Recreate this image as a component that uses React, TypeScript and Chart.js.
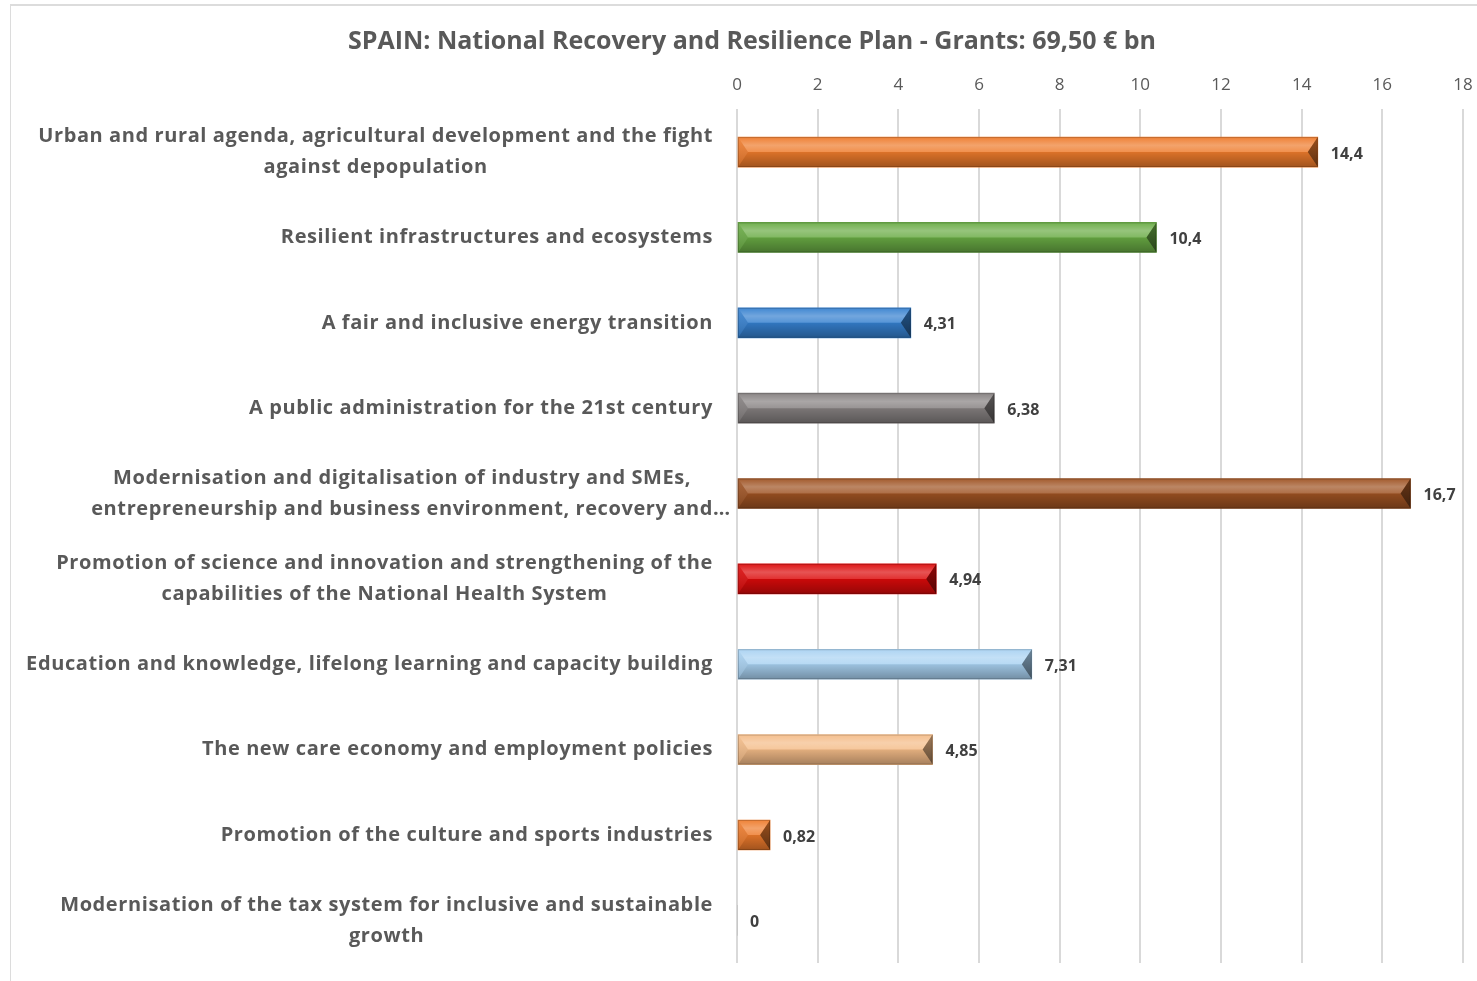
import React, { useEffect, useRef } from 'react';
import { Chart, registerables } from 'chart.js';

Chart.register(...registerables);

const TITLE = 'SPAIN: National Recovery and Resilience Plan - Grants: 69,50 € bn';

const categories: string[][] = [
  ['Urban and rural agenda, agricultural development and the fight', 'against depopulation'],
  ['Resilient infrastructures and ecosystems'],
  ['A fair and inclusive energy transition'],
  ['A public administration for the 21st century'],
  ['Modernisation and digitalisation of industry and SMEs,', 'entrepreneurship and business environment, recovery and…'],
  ['Promotion of science and innovation and strengthening of the', 'capabilities of the National Health System'],
  ['Education and knowledge, lifelong learning and capacity building'],
  ['The new care economy and employment policies'],
  ['Promotion of the culture and sports industries'],
  ['Modernisation of the tax system for inclusive and sustainable', 'growth'],
];

const grants: number[] = [14.4, 10.4, 4.31, 6.38, 16.7, 4.94, 7.31, 4.85, 0.82, 0];

const barColors: string[] = [
  '#EE7B2C',
  '#69AB44',
  '#3580CF',
  '#858080',
  '#9E5222',
  '#DC0A0A',
  '#A9D2F2',
  '#F4BC88',
  '#EE7B2C',
  '#A5A5A5',
];

const X_MIN = 0;
const X_MAX = 18;
const X_STEP = 2;

const FONT = '"Open Sans", Lato, "DejaVu Sans", sans-serif';

const fmt = (v: number) => String(v).replace('.', ',');

const bevelPlugin = {
  id: 'bevel',
  afterDatasetsDraw(chart: any) {
    const ctx: CanvasRenderingContext2D = chart.ctx;
    const meta = chart.getDatasetMeta(0);
    meta.data.forEach((bar: any) => {
      const { x, y, base, height } = bar.getProps(['x', 'y', 'base', 'height'], true);
      const x0 = Math.min(x, base);
      const x1 = Math.max(x, base);
      const w = x1 - x0;
      if (w < 0.5) return;
      const y0 = y - height / 2;
      const y1 = y + height / 2;
      const yc = y;
      const d = Math.min(10, w / 2);
      ctx.save();
      let g = ctx.createLinearGradient(0, y0, 0, yc);
      g.addColorStop(0, 'rgba(255,255,255,0.05)');
      g.addColorStop(0.55, 'rgba(255,255,255,0.3)');
      g.addColorStop(1, 'rgba(255,255,255,0.16)');
      ctx.fillStyle = g;
      ctx.beginPath();
      ctx.moveTo(x0, y0);
      ctx.lineTo(x1, y0);
      ctx.lineTo(x1 - d, yc);
      ctx.lineTo(x0 + d, yc);
      ctx.closePath();
      ctx.fill();
      g = ctx.createLinearGradient(0, yc, 0, y1);
      g.addColorStop(0, 'rgba(0,0,0,0.08)');
      g.addColorStop(1, 'rgba(0,0,0,0.32)');
      ctx.fillStyle = g;
      ctx.beginPath();
      ctx.moveTo(x0 + d, yc);
      ctx.lineTo(x1 - d, yc);
      ctx.lineTo(x1, y1);
      ctx.lineTo(x0, y1);
      ctx.closePath();
      ctx.fill();
      g = ctx.createLinearGradient(0, y0, 0, y1);
      g.addColorStop(0, 'rgba(255,255,255,0.1)');
      g.addColorStop(1, 'rgba(0,0,0,0.18)');
      ctx.fillStyle = g;
      ctx.beginPath();
      ctx.moveTo(x0, y0);
      ctx.lineTo(x0 + d, yc);
      ctx.lineTo(x0, y1);
      ctx.closePath();
      ctx.fill();
      g = ctx.createLinearGradient(0, y0, 0, y1);
      g.addColorStop(0, 'rgba(0,0,0,0.35)');
      g.addColorStop(1, 'rgba(0,0,0,0.6)');
      ctx.fillStyle = g;
      ctx.beginPath();
      ctx.moveTo(x1, y0);
      ctx.lineTo(x1 - d, yc);
      ctx.lineTo(x1, y1);
      ctx.closePath();
      ctx.fill();
      ctx.strokeStyle = 'rgba(0,0,0,0.18)';
      ctx.lineWidth = 1;
      ctx.strokeRect(x0 + 0.5, y0 + 0.5, w - 1, height - 1);
      ctx.restore();
    });
  },
};

const valueLabelPlugin = {
  id: 'valueLabels',
  afterDatasetsDraw(chart: any) {
    const ctx: CanvasRenderingContext2D = chart.ctx;
    const meta = chart.getDatasetMeta(0);
    ctx.save();
    ctx.font = `bold 16px ${FONT}`;
    ctx.fillStyle = '#404040';
    ctx.textAlign = 'left';
    ctx.textBaseline = 'middle';
    meta.data.forEach((bar: any, i: number) => {
      const { x, y } = bar.getProps(['x', 'y'], true);
      ctx.fillText(fmt(grants[i]), x + 13, y + 2);
    });
    ctx.restore();
  },
};

const categoryLabelPlugin = {
  id: 'categoryLabels',
  afterDraw(chart: any) {
    const ctx: CanvasRenderingContext2D = chart.ctx;
    const yScale = chart.scales.y;
    const right = chart.chartArea.left - 24;
    const lineH = 31;
    ctx.save();
    ctx.font = `bold 20px ${FONT}`;
    (ctx as any).letterSpacing = '0.6px';
    ctx.fillStyle = '#595959';
    ctx.textAlign = 'left';
    ctx.textBaseline = 'middle';
    categories.forEach((lines, i) => {
      const cy = yScale.getPixelForValue(i);
      const widths = lines.map((l) => ctx.measureText(l.replace(/…$/, '')).width);
      const maxW = Math.max(...widths);
      const cx = right - maxW / 2;
      lines.forEach((l, j) => {
        const ly = cy + (j - (lines.length - 1) / 2) * lineH;
        ctx.fillText(l, cx - widths[j] / 2, ly);
      });
    });
    ctx.restore();
  },
};

export default function App() {
  const ref = useRef<HTMLCanvasElement | null>(null);

  useEffect(() => {
    document.body.style.margin = '0';
    document.body.style.overflow = 'hidden';
    document.body.style.background = '#ffffff';
    const canvas = ref.current;
    if (!canvas) return;
    const chart = new Chart(canvas, {
      type: 'bar',
      data: {
        labels: categories.map((c) => c.join(' ')),
        datasets: [
          {
            data: grants,
            backgroundColor: barColors,
            borderWidth: 0,
            barThickness: 30,
          },
        ],
      },
      options: {
        indexAxis: 'y',
        responsive: false,
        animation: false,
        events: [],
        layout: { padding: { left: 31, right: 31, top: 0, bottom: 18 } },
        plugins: {
          legend: { display: false },
          tooltip: { enabled: false },
          title: {
            display: true,
            text: TITLE,
            color: '#595959',
            font: { family: FONT, size: 25, weight: 'bold' },
            padding: { top: 27, bottom: 4 },
          },
        },
        scales: {
          x: {
            position: 'top',
            min: X_MIN,
            max: X_MAX,
            ticks: {
              stepSize: X_STEP,
              color: '#595959',
              font: { family: FONT, size: 17 },
              padding: 14,
            },
            grid: { color: '#d9d9d9', lineWidth: 2, drawTicks: false },
            border: { display: false },
          },
          y: {
            ticks: { display: false },
            grid: { display: false },
            border: { display: false },
            afterFit: (scale: any) => {
              scale.width = 696;
            },
          },
        },
      },
      plugins: [bevelPlugin, valueLabelPlugin, categoryLabelPlugin],
    });
    return () => chart.destroy();
  }, []);

  return (
    <div>
      <div
        style={{
          position: 'absolute',
          left: 10,
          top: 4,
          width: 1600,
          height: 1100,
          borderTop: '2px solid #dcdcdc',
          borderLeft: '1px solid #dcdcdc',
          boxSizing: 'border-box',
        }}
      />
      <canvas
        ref={ref}
        width={1484}
        height={981}
        style={{ position: 'absolute', left: 10, top: 0, width: 1484, height: 981 }}
      />
    </div>
  );
}
